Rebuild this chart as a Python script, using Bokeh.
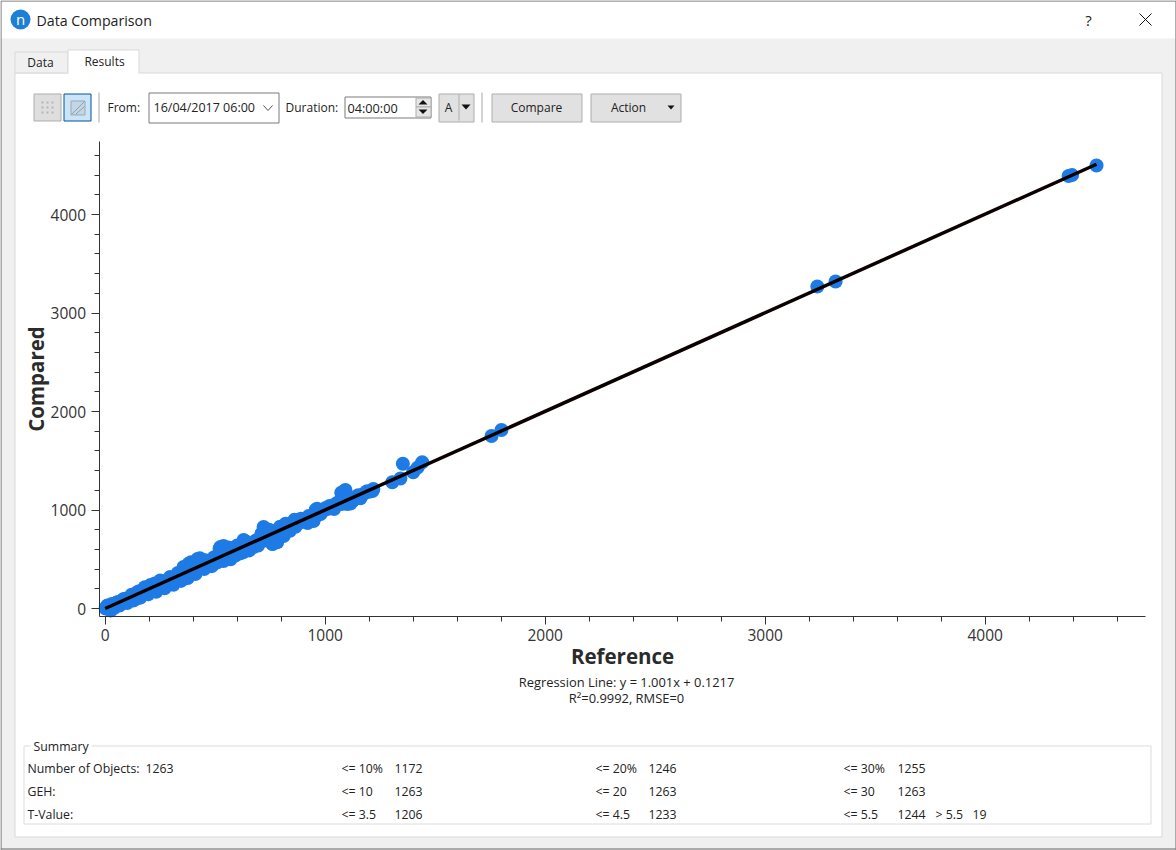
from bokeh.plotting import figure
from bokeh.embed import file_html
from bokeh.resources import INLINE
from bokeh.models import Range1d, FixedTicker
from bokeh.core.properties import value

# ---- chart data ----
reference = [2, 10, 25, 33, 45, 60, 75, 90, 110, 138, 147, 170, 190, 206, 215, 240, 260, 283, 300, 320,
             340, 356, 379, 397, 420, 440, 470, 470, 500, 524, 538, 538, 547, 583, 592, 610, 629, 629,
             650, 674, 674, 700, 720, 735, 761, 775, 788, 811, 830, 850, 874, 874, 900, 920, 947, 956,
             970, 979, 1002, 1010, 1030, 1047, 1073, 1092, 1101, 1115, 1138, 1174, 1190, 1215, 1219,
             1305, 1342, 1353, 1400, 1420, 1441, 1756, 1801, 3237, 3320, 4379, 4395, 4506,
             5, 18, 30, 40, 52, 65, 82, 100, 120, 128, 155, 160, 180, 195, 225, 232, 250, 270, 295, 310,
             330, 345, 365, 375, 390, 410, 430, 450, 455, 485, 495, 510, 520, 560, 570, 600, 615, 640,
             655, 685, 695, 710, 725, 745, 750, 759, 768, 782, 795, 800, 820, 840, 860, 865, 890, 905,
             925, 935, 963, 963, 990, 1020, 1040, 1060, 1075, 1085, 1110, 1125, 1150, 1160, 1200]
compared = [0, 30, -20, 25, 50, 66, 50, 100, 90, 96, 167, 150, 210, 239, 178, 240, 250, 289, 290, 299,
            340, 421, 454, 360, 503, 430, 482, 431, 500, 624, 634, 482, 523, 614, 538, 600, 695, 574,
            650, 645, 624, 690, 827, 740, 655, 770, 807, 736, 820, 850, 898, 858, 900, 868, 888, 1000,
            1000, 959, 1020, 1010, 1030, 1061, 1175, 1203, 1061, 1066, 1130, 1162, 1190, 1193, 1213,
            1282, 1320, 1469, 1384, 1430, 1485, 1751, 1812, 3269, 3320, 4391, 4400, 4497,
            15, -5, 45, 5, 60, 30, 95, 55, 140, 80, 175, 110, 215, 145, 255, 170, 285, 205, 320, 240,
            360, 280, 420, 310, 470, 350, 510, 400, 490, 430, 520, 470, 610, 620, 500, 640, 560, 680,
            590, 690, 640, 760, 690, 800, 700, 657, 670, 673, 830, 750, 860, 790, 900, 830, 910, 880,
            940, 900, 1012, 944, 990, 1040, 1010, 1080, 1060, 1190, 1100, 1090, 1150, 1120, 1185]
line_x = [0, 4506]
line_y = [0.1217, 4510]
x_major = [0, 1000, 2000, 3000, 4000]
y_major = [0, 1000, 2000, 3000, 4000]
minor = [200, 400, 600, 800, 1200, 1400, 1600, 1800, 2200, 2400, 2600, 2800, 3200, 3400, 3600, 3800,
         4200, 4400, 4600]
summary_rows = [
    ("Number of Objects:", "1263", "<= 10%", "1172", "<= 20%", "1246", "<= 30%", "1255"),
    ("GEH:", "", "<= 10", "1263", "<= 20", "1263", "<= 30", "1263"),
    ("T-Value:", "", "<= 3.5", "1206", "<= 4.5", "1233", "<= 5.5", "1244"),
]

W, H = 1176, 850
UI = "Open Sans"
TXT = "#222222"
X0, XS = 104.7, 0.22      # pixel of x=0, pixels per unit
Y0, YS = 608.0, 0.0985    # pixel of y=0, pixels per unit

p = figure(width=W, height=H, output_backend="svg", toolbar_location=None,
           x_range=Range1d(-X0 / XS, (W - X0) / XS), y_range=Range1d((Y0 - H) / YS, Y0 / YS),
           min_border=0)
p.extra_x_ranges["page"] = Range1d(0, W)
p.extra_y_ranges["page"] = Range1d(H, 0)
p.background_fill_color = "#f0f0f0"
p.border_fill_color = "#f0f0f0"
p.outline_line_color = None
p.grid.visible = False
PAGE = dict(x_range_name="page", y_range_name="page")


def box(x0, y0, x1, y1, fill="white", line=None):
    off = 0.5 if line else 0
    p.quad(left=[x0 + off], right=[x1 + off], top=[y0 + off], bottom=[y1 + off], fill_color=fill,
           line_color=line, **PAGE)


def seg(xs, ys, line="#111111", width=1):
    p.line(xs, ys, line_color=line, line_width=width, **PAGE)


def tri(xs, ys, fill="#111111"):
    p.patch(xs, ys, fill_color=fill, line_color=None, **PAGE)


def text(x, y, s, size=12, color=TXT, align="left"):
    p.text([x], [y], text=[s], text_font=value(UI), text_font_size=value(f"{size}px"),
           text_color=color, text_align=align, text_baseline="middle", **PAGE)


# ---- window chrome ----
box(0, 0, 1175, 38)
box(14, 72, 1161, 836, line="#d9d9d9")
box(14, 51, 67, 72, fill="#f0f0f0", line="#d9d9d9")
box(67, 49, 138, 72, line="#d9d9d9")
box(68, 71, 138, 74)
p.scatter([20], [19], size=20, marker="circle", fill_color="#1e7fd6", line_color=None, **PAGE)
text(20, 18, "n", 15, "white", "center")
text(36, 19.5, "Data Comparison", 14.2)
text(1088, 19, "?", 15, align="center")
seg([1139, 1151], [13, 25])
seg([1151, 1139], [13, 25])
text(40, 62, "Data", 12, align="center")
text(104, 61, "Results", 12, align="center")

# toolbar
box(33, 93, 60, 120, fill="#dedede", line="#adadad")
for dx in (42, 47, 52):
    for dy in (102, 107, 112):
        box(dx - 1, dy - 1, dx + 1, dy + 1, fill="#b5b5b5")
box(63, 93, 90, 120, fill="#cce4f7", line="#005499")
box(70, 100, 84, 114, fill="#c4d6e4", line="#9aa9b5")
seg([71, 84], [114, 101], "#8fa3b3")
seg([75, 84], [114, 106], "#8fa3b3")
seg([98.5, 98.5], [92, 122], "#a8a8a8")
text(107, 107, "From:", 12)
box(148, 92, 278, 122, line="#7a7a7a")
text(153, 107, "16/04/2017 06:00", 12.5)
seg([263, 267.5, 272], [105, 110, 105], "#555555")
text(285, 107, "Duration:", 12)
box(344, 96, 430, 117, line="#7a7a7a")
text(347, 107, "04:00:00", 12.7)
box(415, 97, 430, 106, fill="#e6e6e6", line="#adadad")
box(415, 106, 430, 116, fill="#e6e6e6", line="#adadad")
tri([418, 422.5, 427], [104, 99.5, 104])
tri([418, 422.5, 427], [109, 113.5, 109])
box(438, 93, 473, 121, fill="#e1e1e1", line="#adadad")
seg([458.5, 458.5], [94, 120], "#adadad")
text(448, 107, "A", 12, align="center")
tri([461, 470, 465.5], [104, 104, 109])
seg([481.5, 481.5], [92, 122], "#a8a8a8")
box(491, 93, 581, 121, fill="#e1e1e1", line="#adadad")
text(536, 107, "Compare", 12, align="center")
box(590, 93, 680, 121, fill="#e1e1e1", line="#adadad")
text(628, 107, "Action", 12, align="center")
tri([667, 674, 670.5], [105, 105, 109])

# summary group
box(23, 745, 1150, 823, line="#dcdcdc")
box(30, 740, 91, 750)
text(33, 745.5, "Summary", 12.3)
columns = (27, 145, 341, 394, 595, 648, 843, 897)
for row_y, row in zip((767.5, 791, 814), summary_rows):
    for col_x, s in zip(columns, row):
        if s:
            text(col_x, row_y, s, 12.3)
text(935, 814, "> 5.5", 12.3)
text(972, 814, "19", 12.3)
text(626, 681, "Regression Line: y = 1.001x + 0.1217", 12.9, align="center")
text(626, 697, "R²=0.9992, RMSE=0", 12.9, align="center")
seg([0.5, 0.5, 1175.5, 1175.5], [849, 0.5, 0.5, 849], "#666666")
seg([0, 1176], [848.5, 848.5], "#666666")

# ---- chart ----
p.scatter(reference, compared, size=14, marker="circle", fill_color="#1e7be6", line_color=None)
p.line(line_x, line_y, line_color="#0a0000", line_width=3.5)

p.xaxis.ticker = FixedTicker(ticks=x_major, minor_ticks=minor)
p.yaxis.ticker = FixedTicker(ticks=y_major, minor_ticks=minor)
for ax in (p.xaxis[0], p.yaxis[0]):
    ax.major_tick_in = 0
    ax.minor_tick_in = 0
    ax.major_tick_out = 8
    ax.minor_tick_out = 5
    ax.axis_line_color = "#333333"
    ax.major_tick_line_color = "#333333"
    ax.minor_tick_line_color = "#333333"
    ax.axis_line_width = 1
    ax.major_label_text_font = UI
    ax.major_label_text_font_size = "15.5px"
    ax.major_label_text_color = "#333333"
    ax.axis_label_text_font = UI
    ax.axis_label_text_font_style = "bold"
    ax.axis_label_text_font_size = "20.5px"
    ax.axis_label_text_color = "#2b2b2b"
    ax.major_label_standoff = 5
p.xaxis[0].axis_label_standoff = -3
p.yaxis[0].axis_label_standoff = -2
p.xaxis[0].fixed_location = (Y0 - 615.5) / YS
p.yaxis[0].fixed_location = (X0 - 98.5) / -XS
p.xaxis[0].bounds = (-28, (1145 - X0) / XS)
p.yaxis[0].bounds = ((Y0 - 615.5) / YS, (Y0 - 141) / YS)
p.xaxis.axis_label = "Reference"
p.yaxis.axis_label = "Compared"
p.yaxis.major_label_orientation = "horizontal"

open("out.html", "w").write(file_html(p, INLINE))
